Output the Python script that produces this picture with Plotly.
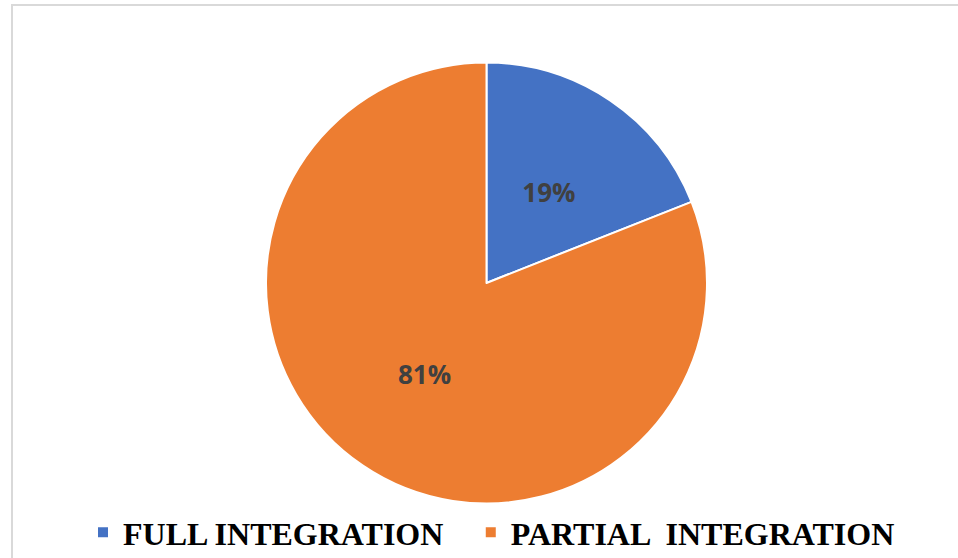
import plotly.graph_objects as go

categories = ["FULL INTEGRATION", "PARTIAL  INTEGRATION"]
values = [19, 81]
colors = ["#4472C4", "#ED7D31"]

W, H = 958, 558
pad = "\u00a0\u00a0\u2009"  # invisible padding to space legend entries like the reference
nb = "\u00a0"

fig = go.Figure(go.Pie(
    labels=[c + pad for c in categories],
    values=values,
    sort=False,
    direction="clockwise",
    rotation=0,
    marker=dict(colors=colors, line=dict(color="white", width=2)),
    texttemplate=["<span style='font-size:42px'>" + nb + "</span><br>%{percent:.0%}" + nb * 5,
                  "%{percent:.0%}"],
    textposition="inside",
    insidetextorientation="horizontal",
    textfont=dict(family="Open Sans", size=26, color="#404040", weight="bold"),
    domain=dict(x=[266/W, 707/W], y=[(H-503.5)/H, (H-62.5)/H]),
    hoverinfo="skip",
))

fig.update_layout(
    width=W, height=H,
    margin=dict(l=0, r=0, t=0, b=0, autoexpand=False),
    paper_bgcolor="white",
    plot_bgcolor="white",
    showlegend=True,
    legend=dict(
        orientation="h",
        x=83/W, xanchor="left",
        y=1-505/H, yanchor="top",
        font=dict(family="Liberation Serif", size=32, color="black", weight="bold"),
        bgcolor="rgba(0,0,0,0)",
    ),
    shapes=[dict(type="rect", xref="paper", yref="paper",
                 x0=12/W, x1=1.02, y0=-0.02, y1=1-5/H,
                 line=dict(color="#D9D9D9", width=2), fillcolor="rgba(0,0,0,0)",
                 layer="below")],
)

fig.write_html(
    "out.html",
    config={"displayModeBar": False},
    post_script="document.body.style.margin='0';document.body.style.overflow='hidden';",
)
